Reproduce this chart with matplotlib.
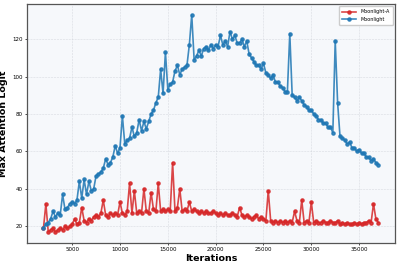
import numpy as np
import matplotlib
matplotlib.use("Agg")
from matplotlib import pyplot as plt

# iterations sampled every 250 steps
iterations = np.arange(2000, 37001, 250)

moonlight = [
    19, 21, 22, 24, 28, 25, 27, 26, 37, 29,
    30, 32, 33, 32, 34, 44, 35, 45, 37, 44,
    39, 40, 47, 48, 49, 51, 56, 53, 54, 57,
    63, 59, 62, 79, 64, 66, 67, 73, 68, 70,
    77, 71, 76, 72, 76, 80, 82, 86, 89, 104,
    91, 113, 93, 96, 97, 103, 106, 101, 104, 105,
    106, 117, 133, 109, 111, 114, 111, 115, 116, 114,
    117, 115, 117, 116, 122, 117, 119, 116, 124, 120,
    122, 118, 118, 120, 116, 119, 112, 110, 108, 106,
    106, 104, 107, 102, 101, 99, 101, 97, 97, 95,
    94, 92, 92, 123, 90, 89, 87, 89, 87, 85,
    84, 82, 82, 80, 79, 77, 77, 75, 75, 73,
    73, 70, 119, 86, 68, 67, 66, 64, 65, 62,
    62, 60, 61, 59, 59, 57, 57, 55, 56, 54,
    53,
]

moonlight_a = [
    19, 32, 17, 18, 19, 17, 18, 19, 18, 20,
    19, 20, 21, 24, 21, 22, 30, 23, 22, 24,
    23, 25, 26, 25, 27, 34, 26, 25, 27, 26,
    27, 26, 33, 27, 26, 28, 43, 27, 39, 27,
    28, 27, 40, 28, 27, 38, 29, 28, 43, 28,
    29, 28, 29, 28, 54, 28, 30, 40, 28, 29,
    28, 33, 28, 29, 28, 27, 28, 27, 28, 27,
    27, 28, 27, 26, 27, 26, 27, 26, 26, 27,
    26, 25, 30, 26, 25, 26, 25, 24, 25, 26,
    24, 25, 24, 23, 39, 23, 22, 23, 22, 23,
    22, 23, 22, 23, 22, 28, 23, 22, 34, 22,
    23, 22, 33, 22, 23, 22, 22, 23, 22, 22,
    23, 22, 22, 23, 21, 22, 21, 22, 21, 21,
    22, 21, 22, 21, 22, 22, 23, 22, 32, 24,
    22,
]

fig = plt.figure(figsize=(3.99, 2.65), dpi=100)
ax = fig.add_axes([0.067, 0.084, 0.923, 0.901])
ax.set_facecolor("#f6f8fb")

ax.plot(iterations, moonlight_a, c="#d62728", marker="o", ms=2.3,
        lw=1.2, alpha=0.85, label="Moonlight-A")
ax.plot(iterations, moonlight, c="#1f77b4", marker="o", ms=2.3,
        lw=1.2, alpha=0.85, label="Moonlight")

ax.set_xticks([5000, 10000, 15000, 20000, 25000, 30000, 35000])
ax.set_yticks([20, 40, 60, 80, 100, 120])
ax.tick_params(labelsize=4, length=1.5, width=0.5, pad=1.5)
ax.grid(True, ls="--", lw=0.4, color="#d0d4da", alpha=0.8)
ax.set_axisbelow(True)
for s in ax.spines.values():
    s.set_color("#555555")
    s.set_linewidth(0.9)

ax.set_xlabel("Iterations", fontsize=6.8, fontweight="bold", labelpad=1.5)
ax.set_ylabel("Max Attention Logit", fontsize=6.8, fontweight="bold", labelpad=3)
ax.legend(loc="upper right", fontsize=3.5, framealpha=1, borderpad=0.6,
          handlelength=3)

fig.savefig("out.png", dpi=100)
